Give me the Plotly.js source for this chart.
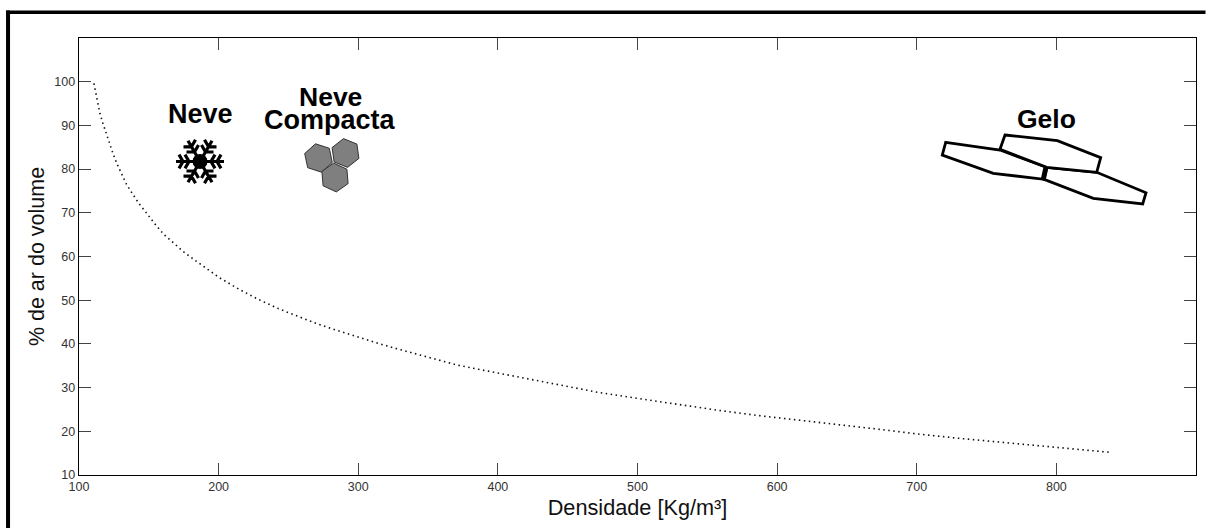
<!DOCTYPE html>
<html>
<head>
<meta charset="utf-8">
<script src="https://cdn.plot.ly/plotly-3.0.1.min.js"></script>
<style>html,body{margin:0;padding:0;background:#fff;overflow:hidden}#chart{width:1206px;height:528px}</style>
</head>
<body>
<div id="chart"></div>
<script>
// Values
const densidade = [110.7,112.2,113.6,115,117.2,119.6,121.7,124.4,127.2,130.3,133.9,138.2,143,148.7,154.2,160.9,168,175.2,182.4,189.5,196.7,
  200.3,214.6,228.4,243.3,257.1,271.4,285.7,300,314.4,328.7,343,357.4,371.7,386,400.3,
  425.4,447,472,500.6,529.3,558,586.6,615.3,650,680,700,730,762,795.6,838];
const arDoVolume = [99.6,97.3,95,92.7,90.4,88.1,85.8,83.5,81.2,78.9,76.6,74.4,72.1,69.8,67.5,65,62.9,61,59.3,57.6,56,
  55.2,52.5,50.2,48,46.2,44.5,43,41.5,40.1,38.8,37.6,36.3,35.1,34.2,33.3,
  31.7,30.4,28.9,27.5,26.1,24.8,23.6,22.5,21.3,20.2,19.4,18.4,17.5,16.5,15.2];
const xTicks = [100,200,300,400,500,600,700,800,900];
const xTickLabels = ['100','200','300','400','500','600','700','800',''];
const yTicks = [10,20,30,40,50,60,70,80,90,100,110];
const yTickLabels = ['10','20','30','40','50','60','70','80','90','100',''];
const xTitle = 'Densidade [Kg/m³]';
const yTitle = '% de ar do volume';

// Decorative icons, in pixel offsets from the axes' lower-left corner
const ox = 79, oy = 475;
const pt = (x,y) => (x-ox).toFixed(1)+','+(oy-y).toFixed(1);
const poly = pts => 'M'+pts.map(p=>pt(p[0],p[1])).join('L')+'Z';
const seg = (a,b) => 'M'+pt(a[0],a[1])+'L'+pt(b[0],b[1]);
const icon = (path, extra) => Object.assign({type:'path', path, layer:'above',
  xref:'x', yref:'y', xsizemode:'pixel', ysizemode:'pixel', xanchor:100, yanchor:10}, extra);
const zp = p => [900+p[0]/3, 90+p[1]/3];
const iceA = [[137,157],[300,180],[440,232],[432,268],[280,250],[127,195]].map(zp);
const iceB = [[315,135],[472,152],[602,203],[590,247],[440,232],[300,178]].map(zp);
const iceC = [[440,232],[590,247],[738,308],[728,342],[580,325],[432,268]].map(zp);
const hex = (cx,cy,r,rot) => { const a=[]; for(let i=0;i<6;i++){const t=(rot+60*i)*Math.PI/180; a.push([cx+r*Math.sin(t),cy-r*Math.cos(t)]);} return a; };
const flake = (cx,cy) => { let d=''; for(let i=0;i<6;i++){ const t=i*Math.PI/3;
    const P=(r,o)=>[cx+r*Math.cos(t+o),cy+r*Math.sin(t+o)];
    d+=seg([cx,cy],P(24,0));
    [[11,8],[17,8]].forEach(([b,l])=>{ const base=P(b,0);
      [-1,1].forEach(s=>{ const q=[base[0]+l*Math.cos(t+s*Math.PI/3),base[1]+l*Math.sin(t+s*Math.PI/3)]; d+=seg(base,q); }); });
  } return d; };
const circ = (cx,cy,r) => { const a=[]; for(let i=0;i<16;i++){const t=i*Math.PI/8;a.push([cx+r*Math.cos(t),cy+r*Math.sin(t)]);} return poly(a); };

const shapes = [
  icon(poly(iceA),{line:{color:'#000',width:2.8},fillcolor:'#fff'}),
  icon(poly(iceC),{line:{color:'#000',width:2.8},fillcolor:'#fff'}),
  icon(poly(iceB),{line:{color:'#000',width:2.8},fillcolor:'#fff'}),
  icon(seg(zp([438,232]),zp([430,268])),{line:{color:'#000',width:5}}),
  icon(poly(hex(318.5,158,14.5,-12)),{line:{color:'#333',width:1},fillcolor:'#7f7f7f'}),
  icon(poly(hex(345.5,153,14.5,-8)),{line:{color:'#333',width:1},fillcolor:'#7f7f7f'}),
  icon(poly(hex(335,177.5,14.5,-5)),{line:{color:'#333',width:1},fillcolor:'#7f7f7f'}),
  icon(flake(200,161.5),{line:{color:'#000',width:3.2}}),
  icon(circ(200,161.5,7.5),{line:{color:'#000',width:0},fillcolor:'#000'}),
  // outer frame
  {type:'rect',xref:'paper',yref:'paper',x0:(6-79)/1117.5,x1:(10-79)/1117.5,y0:-53/437.5,y1:(475-10)/437.5,fillcolor:'#000',line:{width:0}},
  {type:'rect',xref:'paper',yref:'paper',x0:(6-79)/1117.5,x1:(1206-79)/1117.5,y0:(475-10)/437.5,y1:(475-13.5)/437.5,fillcolor:'#000',line:{width:0}}
];

const labelFont = {family:'"Liberation Sans", Arial, sans-serif', color:'#000', weight:'bold'};
const note = (text,x,y,size) => ({text:'<b>'+text+'</b>',x,y,xref:'x',yref:'y',showarrow:false,xanchor:'center',yanchor:'middle',
  font:Object.assign({},labelFont,{size})});

const axisCommon = {showgrid:false, zeroline:false, showline:true, linecolor:'#000', linewidth:1.4,
  mirror:'allticks', ticks:'inside', ticklen:12, tickwidth:1.2, tickcolor:'#444', tickmode:'array',
  tickangle:0, automargin:false, tickfont:{family:'"Liberation Sans", Arial, sans-serif', size:12.5, color:'#333'}};
const titleFont = {family:'"Liberation Sans", Arial, sans-serif', color:'#111'};

Plotly.newPlot('chart',[{
  type:'scatter', mode:'lines', x:densidade, y:arDoVolume,
  line:{color:'#111', width:1.6, dash:'1.5px,3.5px', shape:'linear'},
  hoverinfo:'skip', showlegend:false
}],{
  width:1206, height:528, paper_bgcolor:'#fff', plot_bgcolor:'#fff', showlegend:false,
  margin:{l:79,r:9.5,t:37.5,b:53,pad:0},
  xaxis:Object.assign({},axisCommon,{range:[100,900],tickvals:xTicks,ticktext:xTickLabels,
    title:{text:xTitle,font:Object.assign({size:21.7},titleFont),standoff:6}}),
  yaxis:Object.assign({},axisCommon,{range:[10,110],tickvals:yTicks,ticktext:yTickLabels,
    title:{text:yTitle,font:Object.assign({size:21.5},titleFont),standoff:3}}),
  shapes,
  annotations:[
    note('Neve',186.7,92.6,27),
    note('Neve',279.8,96.5,26.5),
    note('Compacta',279.8,91.2,27),
    note('Gelo',792.7,91.5,26.5)
  ]
},{staticPlot:true,displayModeBar:false});
</script>
</body>
</html>
